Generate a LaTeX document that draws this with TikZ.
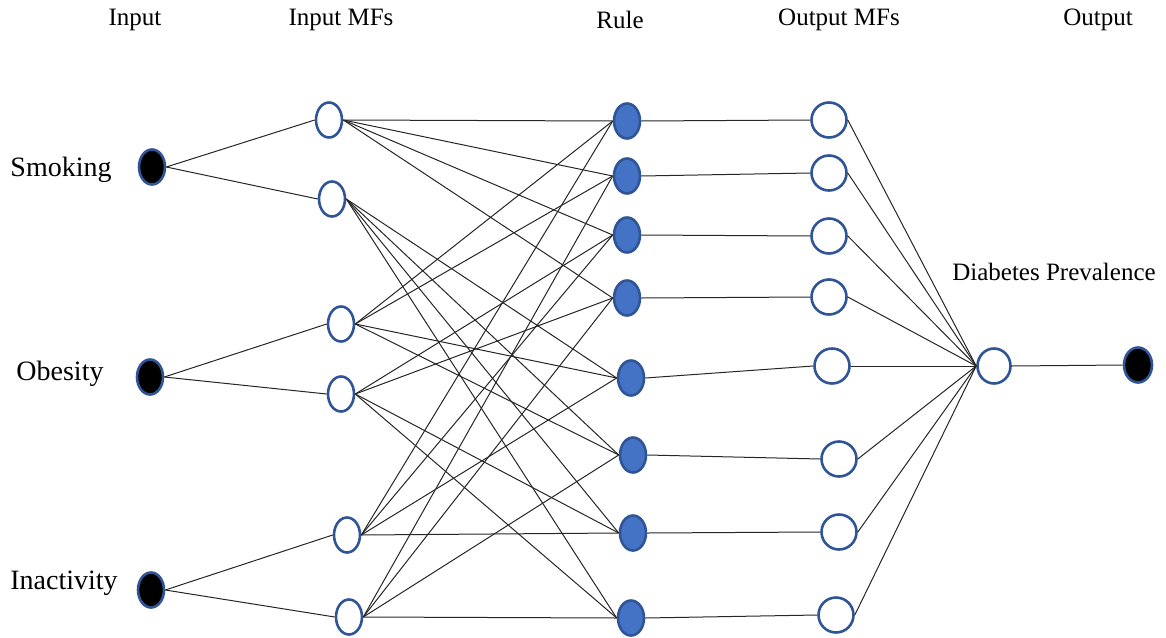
\documentclass[tikz,border=0pt]{standalone}
\usepackage{fontspec}
\setmainfont{Liberation Serif}
\usetikzlibrary{shapes.geometric}

\definecolor{rimblue}{HTML}{2F5597}
\definecolor{ruleblue}{HTML}{4472C4}

\begin{document}
\begin{tikzpicture}[x=0.5pt, y=-0.5pt, line width=.5pt,
    every node/.style={font=\fontsize{12.5}{15}\selectfont},
    sidelabel/.style={font=\fontsize{14}{16}\selectfont},
    blob/.style={ellipse, draw=rimblue, line width=1.3pt, inner sep=0pt, minimum width=13pt, minimum height=17.5pt},
    innode/.style={blob, fill=black},
    mfnode/.style={blob, fill=white},
    rulenode/.style={blob, fill=ruleblue},
    outmf/.style={blob, fill=white, minimum width=17.5pt},
    link/.style={draw=black!85, line width=.5pt}]
  \useasboundingbox (0,0) rectangle (1166,637);

  % column titles
  \node (hin)   at (135,20)  {Input};
  \node (hmf)   at (341,20)  {Input MFs};
  \node (hrule) at (620,20)  {Rule};
  \node (hout)  at (839,20)  {Output MFs};
  \node (hres)  at (1098,20) {Output};

  % inputs
  \node[innode] (in1) at (152,167) {};
  \node[innode] (in2) at (150,377) {};
  \node[innode] (in3) at (151,590) {};
  \node[sidelabel] (smoking)    at (61,170) {Smoking};
  \node[sidelabel] (obesity)    at (60,374) {Obesity};
  \node[sidelabel] (inactivity) at (64,583) {Inactivity};

  % input membership functions
  \node[mfnode] (m1) at (329,120) {};
  \node[mfnode] (m2) at (332,199) {};
  \node[mfnode] (m3) at (341,324) {};
  \node[mfnode] (m4) at (341,394) {};
  \node[mfnode] (m5) at (347,535) {};
  \node[mfnode] (m6) at (349,617) {};

  % rules
  \foreach \i/\x/\y in {1/627/121, 2/627/176, 3/627/235, 4/627/298,
                        5/631/378, 6/633/455, 7/633/533, 8/631/618}
    \node[rulenode] (r\i) at (\x,\y) {};

  % output membership functions
  \foreach \i/\x/\y in {1/829/120, 2/829/173, 3/829/236, 4/829/297,
                        5/832/366, 6/839/459, 7/839/532, 8/836/615}
    \node[outmf] (o\i) at (\x,\y) {};

  \node[mfnode, minimum width=16.5pt] (agg) at (994,366) {};
  \node[innode, minimum width=14pt] (res) at (1138,365) {};
  \node (diabetes) at (1054,272) {Diabetes Prevalence};

  \path[link] (in1.east) -- (m1.west);
  \path[link] (in1.east) -- (m2.west);
  \path[link] (in2.east) -- (m3.west);
  \path[link] (in2.east) -- (m4.west);
  \path[link] (in3.east) -- (m5.west);
  \path[link] (in3.east) -- (m6.west);

  \foreach \r in {1,2,3,4} \path[link] (m1.east) -- (r\r.west);
  \foreach \r in {5,6,7,8} \path[link] (m2.east) -- (r\r.west);
  \foreach \r in {1,2,5,6} \path[link] (m3.east) -- (r\r.west);
  \foreach \r in {3,4,7,8} \path[link] (m4.east) -- (r\r.west);
  \foreach \r in {1,3,5,7} \path[link] (m5.east) -- (r\r.west);
  \foreach \r in {2,4,6,8} \path[link] (m6.east) -- (r\r.west);

  \foreach \i in {1,...,8} {
    \path[link] (r\i.east) -- (o\i.west);
    \path[link] (o\i.east) -- (agg.west);
  }
  \path[link] (agg.east) -- (res.west);
\end{tikzpicture}
\end{document}
